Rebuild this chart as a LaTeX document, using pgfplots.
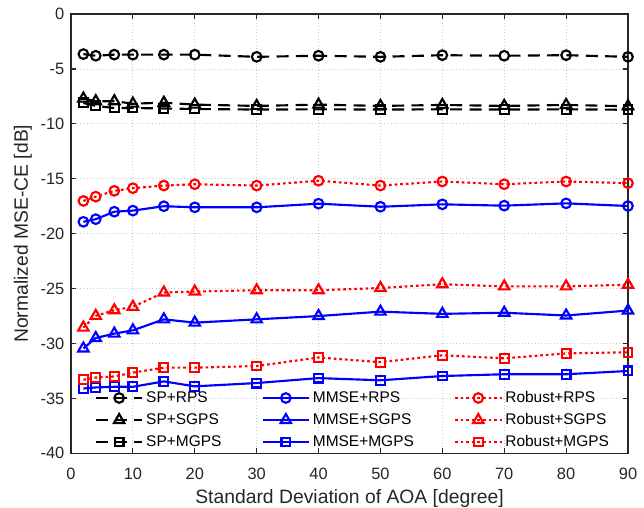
\documentclass[border=0pt]{standalone}
\usepackage{fontspec}
\setmainfont{Liberation Sans}
\usepackage{pgfplots}
\pgfplotsset{compat=1.18}
\usetikzlibrary{calc}
\definecolor{axgray}{gray}{0.15}
\definecolor{gridgray}{gray}{0.80}

\begin{document}
\begin{tikzpicture}
\begin{axis}[
 name=ax,
 scale only axis,
 width=417.75pt, height=329.5pt,
 xmin=0, xmax=90, ymin=-40, ymax=0,
 xtick={0,10,...,90}, ytick={-40,-35,...,0},
 grid=major,
 major grid style={gridgray, dash pattern=on 0.75pt off 1.6pt, line width=0.6pt},
 axis line style={axgray, line width=0.9pt},
 tick style={axgray, line width=0.9pt},
 tick align=inside,
 major tick length=4pt,
 ticklabel style={font=\fontsize{12.3}{14}\selectfont, text=axgray},
 xticklabel style={anchor=base, yshift=-19.4pt},
 yticklabel style={xshift=-1.5pt},
 /pgf/number format/assume math mode=true,
 label style={font=\fontsize{14.5}{16}\selectfont, text=axgray},
 xlabel={Standard Deviation of AOA [degree]},
 ylabel={Normalized MSE-CE [dB]},
 xlabel style={at={(axis description cs:0.5,0)}, anchor=center, yshift=-34pt},
 ylabel style={at={(axis description cs:-0.0862,0.5)}, anchor=center},
 legend columns=3,
 legend cell align=left,
 legend style={draw=none, fill=none, font=\fontsize{11.6}{13}\selectfont,
   at={(axis description cs:0.035,-0.002)}, anchor=south west,
   /tikz/every even column/.append style={column sep=28pt}, row sep=2.6pt},
 legend image code/.code={\draw[mark repeat=2, mark phase=2,#1] plot coordinates {(0pt,0pt) (17.5pt,0pt) (35pt,0pt)};},
 every axis plot/.append style={line width=1.6pt},
]
% row 1
\addplot[black, dash pattern=on 9pt off 5.5pt, mark=o, mark size=3.6pt, mark options={solid}] coordinates {
(2,-3.65) (4,-3.8) (7,-3.7) (10,-3.7) (15,-3.7) (20,-3.7) (30,-3.9) (40,-3.8) (50,-3.9) (60,-3.75) (70,-3.8) (80,-3.75) (90,-3.9)};
\addlegendentry{SP+RPS}
\addplot[blue, solid, mark=o, mark size=3.6pt] coordinates {
(2,-18.92) (4,-18.68) (7,-18.0) (10,-17.9) (15,-17.5) (20,-17.6) (30,-17.6) (40,-17.27) (50,-17.55) (60,-17.33) (70,-17.45) (80,-17.24) (90,-17.48)};
\addlegendentry{MMSE+RPS}
\addplot[red, dash pattern=on 2pt off 2.2pt, mark=o, mark size=3.6pt, mark options={solid}] coordinates {
(2,-17.02) (4,-16.63) (7,-16.1) (10,-15.86) (15,-15.62) (20,-15.5) (30,-15.62) (40,-15.18) (50,-15.62) (60,-15.25) (70,-15.5) (80,-15.25) (90,-15.4)};
\addlegendentry{Robust+RPS}
% row 2
\addplot[black, dash pattern=on 9pt off 5.5pt, mark=triangle, mark size=4.5pt, mark options={solid}] coordinates {
(2,-7.7) (4,-7.94) (7,-7.94) (10,-8.16) (15,-8.08) (20,-8.25) (30,-8.37) (40,-8.25) (50,-8.37) (60,-8.28) (70,-8.37) (80,-8.28) (90,-8.4)};
\addlegendentry{SP+SGPS}
\addplot[blue, solid, mark=triangle, mark size=4.5pt] coordinates {
(2,-30.45) (4,-29.5) (7,-29.1) (10,-28.8) (15,-27.8) (20,-28.1) (30,-27.8) (40,-27.5) (50,-27.1) (60,-27.3) (70,-27.2) (80,-27.45) (90,-27.0)};
\addlegendentry{MMSE+SGPS}
\addplot[red, dash pattern=on 2pt off 2.2pt, mark=triangle, mark size=4.5pt, mark options={solid}] coordinates {
(2,-28.55) (4,-27.48) (7,-26.97) (10,-26.66) (15,-25.36) (20,-25.27) (30,-25.15) (40,-25.15) (50,-24.95) (60,-24.6) (70,-24.8) (80,-24.8) (90,-24.65)};
\addlegendentry{Robust+SGPS}
% row 3
\addplot[black, dash pattern=on 9pt off 5.5pt, mark=square, mark size=3.3pt, mark options={solid}] coordinates {
(2,-8.1) (4,-8.37) (7,-8.56) (10,-8.56) (15,-8.6) (20,-8.65) (30,-8.7) (40,-8.68) (50,-8.7) (60,-8.68) (70,-8.7) (80,-8.68) (90,-8.72)};
\addlegendentry{SP+MGPS}
\addplot[blue, solid, mark=square, mark size=3.3pt] coordinates {
(2,-34.1) (4,-34.0) (7,-33.94) (10,-33.94) (15,-33.45) (20,-33.9) (30,-33.6) (40,-33.15) (50,-33.35) (60,-32.96) (70,-32.8) (80,-32.8) (90,-32.5)};
\addlegendentry{MMSE+MGPS}
\addplot[red, dash pattern=on 2pt off 2.2pt, mark=square, mark size=3.3pt, mark options={solid}] coordinates {
(2,-33.3) (4,-33.1) (7,-33.0) (10,-32.65) (15,-32.2) (20,-32.2) (30,-32.05) (40,-31.27) (50,-31.7) (60,-31.07) (70,-31.35) (80,-30.9) (90,-30.8)};
\addlegendentry{Robust+MGPS}
\end{axis}
\pgfresetboundingbox
\path[use as bounding box] ($(ax.south west)+(-53.25pt,-40.5pt)$) rectangle ($(ax.north east)+(12pt,10.5pt)$);
\end{tikzpicture}
\end{document}
